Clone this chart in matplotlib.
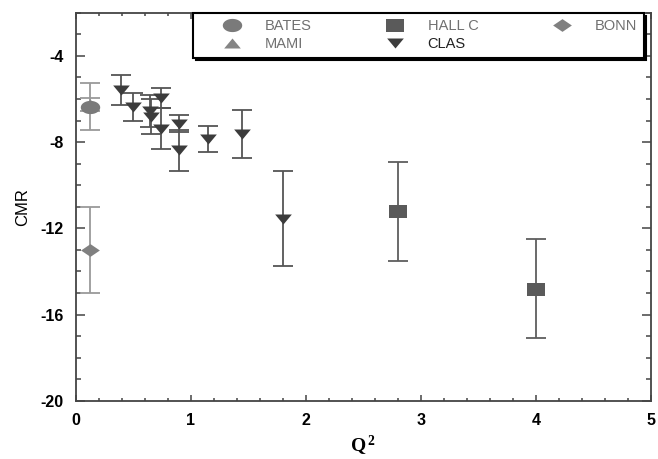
"""CMR vs Q^2 from several experiments (BATES, MAMI, HALL C, CLAS, BONN)."""

import matplotlib

matplotlib.use("Agg")
import matplotlib.pyplot as plt
import numpy as np
from matplotlib.lines import Line2D
from matplotlib.ticker import MultipleLocator

plt.rcParams["font.family"] = ["Liberation Sans", "DejaVu Sans"]
plt.rcParams["axes.unicode_minus"] = False
plt.rcParams["mathtext.fontset"] = "custom"
plt.rcParams["mathtext.rm"] = "Liberation Serif"
plt.rcParams["mathtext.bf"] = "Liberation Serif:bold"

# --- data ---
bates_q2 = [0.12]
bates_cmr = [-6.35]
bates_err = [1.1]

mami_q2 = [0.12]
mami_cmr = [-6.25]
mami_err = [0.32]

hallc_q2 = [2.8, 4.0]
hallc_cmr = [-11.2, -14.8]
hallc_err = [2.3, 2.3]

clas_q2 = [0.39, 0.50, 0.64, 0.65, 0.74, 0.74, 0.90, 0.90, 1.15, 1.44, 1.80]
clas_cmr = [-5.57, -6.39, -6.55, -6.82, -5.94, -7.37, -7.15, -8.38, -7.85, -7.62, -11.55]
clas_err = [0.69, 0.65, 0.75, 0.80, 0.46, 0.95, 0.40, 0.95, 0.62, 1.12, 2.2]

bonn_q2 = [0.12]
bonn_cmr = [-13.0]
bonn_err = [2.0]

legend_labels = ["BATES", "MAMI", "HALL C", "CLAS", "BONN"]


# --- squashed marker shapes (the original plot is stretched horizontally) ---
_t = np.linspace(0, 2 * np.pi, 40)
M_ELLIPSE = list(zip(np.cos(_t), 0.68 * np.sin(_t)))
M_RECT = [(-1, -0.72), (1, -0.72), (1, 0.72), (-1, 0.72), (-1, -0.72)]
M_TRI_DOWN = [(0, -0.6), (-1, 0.6), (1, 0.6), (0, -0.6)]
M_TRI_UP = [(0, 0.6), (-1, -0.6), (1, -0.6), (0, 0.6)]
M_DIAMOND = [(0, -0.68), (1, 0), (0, 0.68), (-1, 0), (0, -0.68)]

series = [
    # label, x, y, err, marker, ms, face, barcolor
    ("MAMI", mami_q2, mami_cmr, mami_err, M_TRI_UP, 12, "#858585", "#9a9a9a"),
    ("BATES", bates_q2, bates_cmr, bates_err, M_ELLIPSE, 14, "#7a7a7a", "#9a9a9a"),
    ("BONN", bonn_q2, bonn_cmr, bonn_err, M_DIAMOND, 13.5, "#808080", "#9a9a9a"),
    ("HALL C", hallc_q2, hallc_cmr, hallc_err, M_RECT, 13, "#5a5a5a", "#5e5e5e"),
    ("CLAS", clas_q2, clas_cmr, clas_err, M_TRI_DOWN, 12, "#3c3c3c", "#555555"),
]

fig = plt.figure(figsize=(6.58, 4.59), dpi=100)
ax = fig.add_axes([0.1155, 0.127, 0.8735, 0.845])

handles = {}
for label, x, y, e, mk, ms, fc, bc in series:
    ax.errorbar(x, y, yerr=e, fmt="none", ecolor=bc, elinewidth=1.3,
                capsize=7.2, capthick=1.3, zorder=2)
    ax.plot(x, y, linestyle="none", marker=mk, markersize=ms,
            markerfacecolor=fc, markeredgecolor=fc, markeredgewidth=0, zorder=3)
    handles[label] = Line2D([], [], linestyle="none", marker=mk, markersize=ms,
                            markerfacecolor=fc, markeredgecolor=fc, markeredgewidth=0)

ax.set_xlim(0, 5)
ax.set_ylim(-20, -2)
ax.xaxis.set_major_locator(MultipleLocator(1))
ax.xaxis.set_minor_locator(MultipleLocator(0.2))
ax.yaxis.set_minor_locator(MultipleLocator(1))
ax.set_yticks([-20, -16, -12, -8, -4])

ax.tick_params(which="both", direction="in", top=True, right=True,
               color="#444444", width=1.1)
ax.tick_params(axis="x", which="major", length=4.5, pad=9)
ax.tick_params(axis="x", which="minor", length=2.4)
ax.tick_params(axis="y", which="major", length=6.5, pad=9)
ax.tick_params(axis="y", which="minor", length=3.6)
for lab in ax.get_xticklabels() + ax.get_yticklabels():
    lab.set_fontweight("bold")
    lab.set_fontsize(11.5)
for sp in ax.spines.values():
    sp.set_color("#444444")
    sp.set_linewidth(1.3)

ax.set_ylabel("CMR", fontsize=12, labelpad=7)
ax.set_xlabel(r"$\mathbf{Q^{\,2}}$", fontsize=14, labelpad=4)

leg = ax.legend([handles[k] for k in legend_labels], legend_labels, ncol=3,
                loc="upper left", bbox_to_anchor=(0.2036, 0.0, 0.784, 1.0),
                mode="expand", borderaxespad=0, fontsize=10.5, frameon=True,
                fancybox=False, edgecolor="black", framealpha=1,
                shadow={"facecolor": "black", "edgecolor": "black", "alpha": 1},
                handlelength=4.45, handletextpad=0.0, labelspacing=0.25,
                borderpad=0.45, columnspacing=1.0)
leg.get_frame().set_linewidth(1.5)
leg.set_zorder(5)
for txt in leg.get_texts():
    txt.set_color("#222222" if txt.get_text() == "CLAS" else "#707070")

fig.savefig("out.png", dpi=100)
